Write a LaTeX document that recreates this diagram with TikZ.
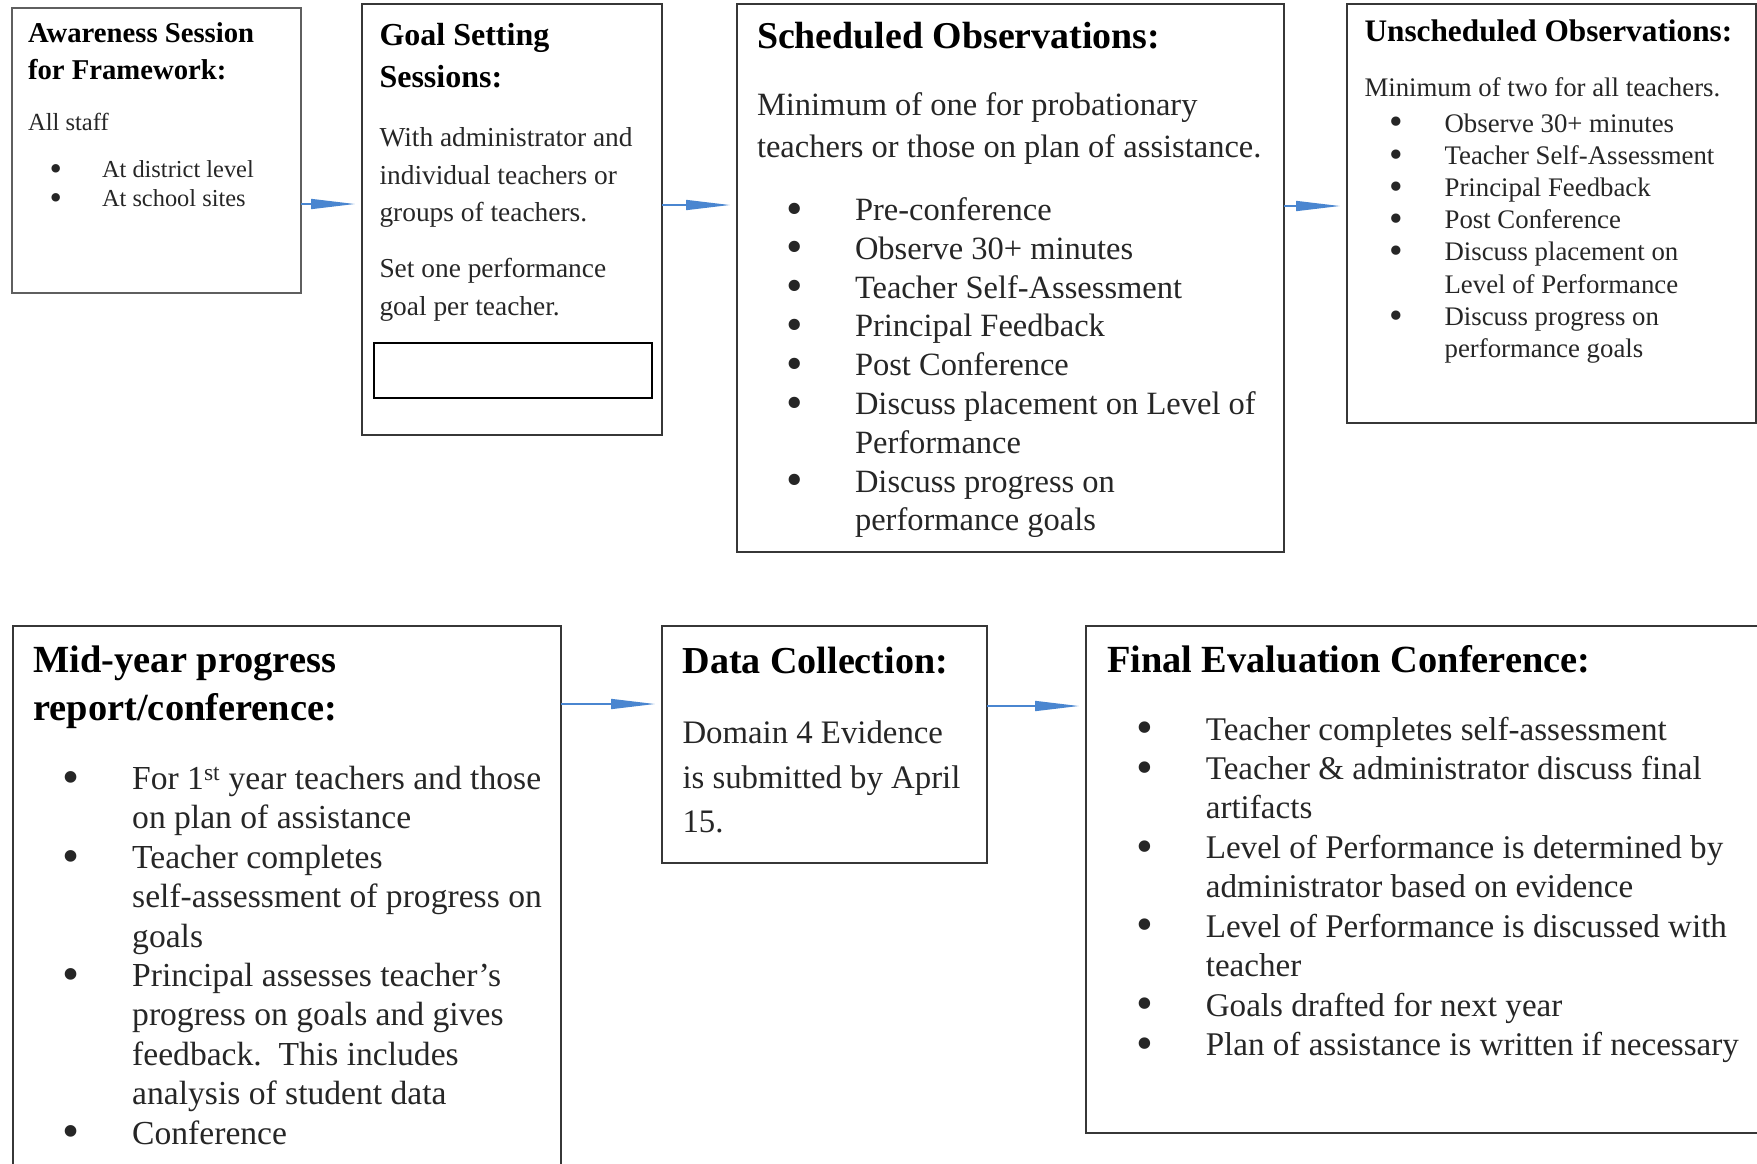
\documentclass[tikz,border=0pt]{standalone}
\usepackage{fontspec}
\setmainfont{Liberation Serif}
\XeTeXinterwordspaceshaping=0
\usetikzlibrary{arrows.meta}
\definecolor{arrowblue}{RGB}{74,134,208}
\definecolor{boxgray}{RGB}{55,55,55}
\definecolor{lightboxgray}{RGB}{95,95,95}
\definecolor{bodytext}{RGB}{38,38,38}
\newcommand\fs[2]{\fontsize{#1pt}{#2pt}\selectfont}
\newcommand\bl[1]{\makebox[#1pt][l]{\hspace*{-0.08em}\raisebox{-0.11em}{\scalebox{1.45}{\textbullet}}}}
\newcommand\ind[1]{\hspace*{#1pt}}
\tikzset{
  box/.style={draw=boxgray, line width=2.5pt, inner sep=0pt, outer sep=0pt, anchor=north west},
  innerbox/.style={draw=black, line width=2.2pt, inner sep=0pt, outer sep=0pt, anchor=north west},
  ttl/.style={anchor=base west, inner sep=0pt, outer sep=0pt, text width=700pt, text=black,
    execute at begin node={\spaceskip=0.25em\relax\xspaceskip=0.25em\relax}},
  txt/.style={anchor=base west, inner sep=0pt, outer sep=0pt, text width=700pt, text=bodytext,
    execute at begin node={\spaceskip=0.25em\relax\xspaceskip=0.25em\relax}},
  conn/.style={draw=arrowblue, line width=1.6pt, -{Triangle[length=44pt,width=10pt]}, shorten >=7pt},
}
\begin{document}
\begin{tikzpicture}[x=1pt,y=-1pt]
\useasboundingbox (0,0) rectangle (1757,1163);

% ---------- boxes ----------
\node[box, draw=lightboxgray, minimum width=289pt, minimum height=285pt] (b1) at (12,8) {};
\node[box, minimum width=300pt, minimum height=431pt] (b2) at (362,4) {};
\node[innerbox, minimum width=278pt, minimum height=55pt] (b2in) at (374,343) {};
\node[box, minimum width=547pt, minimum height=548pt] (b3) at (737,4) {};
\node[box, minimum width=409pt, minimum height=419pt] (b4) at (1347,4) {};
\node[box, minimum width=548pt, minimum height=600pt] (b5) at (13,626) {};
\node[box, minimum width=325pt, minimum height=237pt] (b6) at (662,626) {};
\node[box, minimum width=700pt, minimum height=507pt] (b7) at (1086,626) {};

% ---------- box 1 ----------
\node[ttl, font={\bfseries\fs{28.7}{36.5}}] (t1) at (28,42.5) {Awareness Session\\for Framework:};
\node[txt, font={\fs{24.6}{29}}] (b1a) at (28,130) {All staff};
\node[txt, font={\fs{24.4}{29.2}}] (b1l) at (51.7,177.5) {\bl{50.3}At district level\\\bl{50.3}At school sites};

% ---------- box 2 ----------
\node[ttl, font={\bfseries\fs{32}{42}}] (t2) at (379.5,45) {Goal Setting\\Sessions:};
\node[txt, font={\fs{27.4}{37.5}}] (b2a) at (379.5,146.7) {With administrator and\\individual teachers or\\groups of teachers.};
\node[txt, font={\fs{27.4}{37.3}}] (b2b) at (379.5,277.7) {Set one performance\\goal per teacher.};

% ---------- box 3 ----------
\node[ttl, font={\bfseries\fs{37.9}{44}}] (t3) at (757,48.5) {Scheduled Observations:};
\node[txt, font={\fs{32.5}{42.3}}] (b3a) at (757,115.5) {Minimum of one for probationary\\teachers or those on plan of assistance.};
\node[txt, font={\fs{32.5}{38.8}}] (b3l) at (788.8,220.5) {%
\bl{66.2}Pre-conference\\
\bl{66.2}Observe 30+ minutes\\
\bl{66.2}Teacher Self-Assessment\\
\bl{66.2}Principal Feedback\\
\bl{66.2}Post Conference\\
\bl{66.2}Discuss placement on Level of\\
\ind{66.2}Performance\\
\bl{66.2}Discuss progress on\\
\ind{66.2}performance goals};

% ---------- box 4 ----------
\node[ttl, font={\bfseries\fs{31.3}{38}}] (t4) at (1364.5,41) {Unscheduled Observations:};
\node[txt, font={\fs{26.8}{32}}] (b4a) at (1364.5,96) {Minimum of two for all teachers.};
\node[txt, font={\fs{26.8}{32.2}}] (b4l) at (1391.6,132) {%
\bl{53}Observe 30+ minutes\\
\bl{53}Teacher Self-Assessment\\
\bl{53}Principal Feedback\\
\bl{53}Post Conference\\
\bl{53}Discuss placement on\\
\ind{53}Level of Performance\\
\bl{53}Discuss progress on\\
\ind{53}performance goals};

% ---------- box 5 ----------
\node[ttl, font={\bfseries\fs{38.4}{48.5}}] (t5) at (33.5,672) {Mid-year progress\\report/conference:};
\node[txt, font={\fs{33.6}{39.4}}] (b5l) at (64.7,789.5) {%
\bl{67.5}For 1\textsuperscript{st} year teachers and those\\
\ind{67.5}on plan of assistance\\
\bl{67.5}Teacher completes\\
\ind{67.5}self-assessment of progress on\\
\ind{67.5}goals\\
\bl{67.5}Principal assesses teacher’s\\
\ind{67.5}progress on goals and gives\\
\ind{67.5}feedback.\hspace{0.5em}This includes\\
\ind{67.5}analysis of student data\\
\bl{67.5}Conference};

% ---------- box 6 ----------
\node[ttl, font={\bfseries\fs{38.1}{44}}] (t6) at (682.5,673.5) {Data Collection:};
\node[txt, font={\fs{32.8}{44.5}}] (b6a) at (682.5,743.5) {Domain 4 Evidence\\is submitted by April\\15.};

% ---------- box 7 ----------
\node[ttl, font={\bfseries\fs{38.4}{44}}] (t7) at (1107,672.5) {Final Evaluation Conference:};
\node[txt, font={\fs{33.1}{39.45}}] (b7l) at (1139.5,740) {%
\bl{66.3}Teacher completes self-assessment\\
\bl{66.3}Teacher \& administrator discuss final\\
\ind{66.3}artifacts\\
\bl{66.3}Level of Performance is determined by\\
\ind{66.3}administrator based on evidence\\
\bl{66.3}Level of Performance is discussed with\\
\ind{66.3}teacher\\
\bl{66.3}Goals drafted for next year\\
\bl{66.3}Plan of assistance is written if necessary};

% ---------- connectors ----------
\draw[conn] (b1.east |- 0,204) -- (b2.west |- 0,204);
\draw[conn] (b2.east |- 0,205) -- (b3.west |- 0,205);
\draw[conn] (b3.east |- 0,206) -- (b4.west |- 0,206);
\draw[conn] (b5.east |- 0,704) -- (b6.west |- 0,704);
\draw[conn] (b6.east |- 0,706) -- (b7.west |- 0,706);
\end{tikzpicture}
\end{document}
